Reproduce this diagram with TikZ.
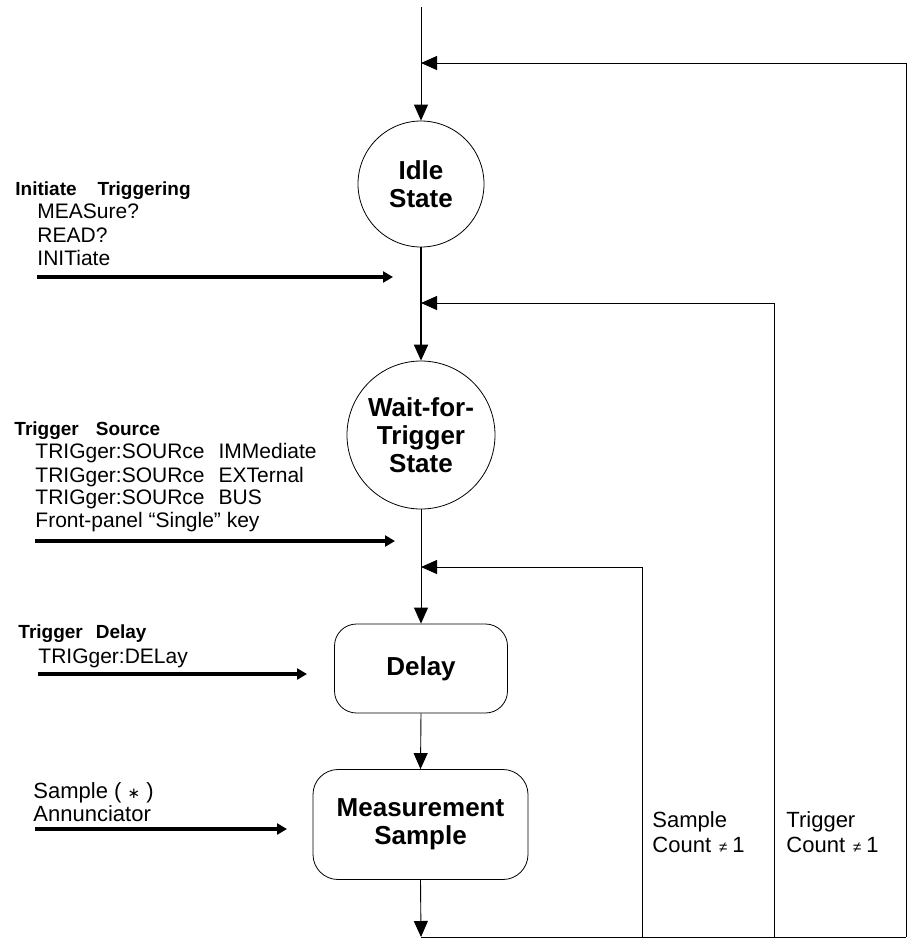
\documentclass[tikz,border=0pt]{standalone}
\usepackage{fontspec}
\setmainfont{Liberation Sans}
\newfontfamily\dejavu{DejaVu Sans}
\usetikzlibrary{arrows.meta}
\begin{document}
\begin{tikzpicture}[x=1pt,y=-1pt,
  line width=0.9pt,
  tipb/.style={-{Triangle[length=16pt,width=14pt]}},
  tips/.style={-{Triangle[length=10pt,width=11pt]}, line width=4pt},
  statec/.style={circle, draw, line width=0.8pt, inner sep=0pt, align=center,
    font=\fontsize{26}{28}\selectfont\bfseries},
  stepbox/.style={rounded corners=22pt, draw, line width=0.8pt, inner sep=0pt, align=center,
    font=\fontsize{26}{28}\selectfont\bfseries},
  lbl/.style={anchor=base west, inner sep=0pt, font=\fontsize{21}{23}\selectfont},
  lblc/.style={anchor=base west, inner sep=0pt, font=\fontsize{22}{24}\selectfont},
  lblb/.style={anchor=base west, inner sep=0pt, font=\fontsize{19}{23}\selectfont\bfseries},
]
\useasboundingbox (0,0) rectangle (907,940);

% states
\node[statec, minimum size=126pt] (idle) at (421,184) {Idle\\State};
\node[statec, minimum size=148pt] (wait) at (421,435) {Wait-for-\\Trigger\\State};
\node[stepbox, minimum width=173pt, minimum height=89pt] (delay) at (421,668.5) {Delay};
\node[stepbox, rounded corners=25pt, minimum width=215pt, minimum height=110pt] (meas) at (420.5,824.5) {Measurement\\Sample};

% main-line coordinates
\coordinate (top) at (421,7);
\coordinate (m1) at (421,63);
\coordinate (m2) at (421,303);
\coordinate (m3) at (421,567);
\coordinate (b0) at (421,937);
\coordinate (b1) at (642,937);
\coordinate (b2) at (774,937);
\coordinate (b3) at (906,937);

% main flow
\draw[tipb] (top) -- (idle.north);
\draw[tipb, line width=2pt] (idle.south) -- (wait.north);
\draw[tipb] (wait.south) -- (delay.north);
\draw[tipb] (delay.south) -- (meas.north);
\draw[tipb] (meas.south) -- (b0);
\draw (b0) -- (b3);

% feedback loops
\draw[tipb] (b3) -- (906,63) -- (m1);
\draw[tipb] (b2) -- (774,303) -- (m2);
\draw[tipb] (b1) -- (642,567) -- (m3);

% left labels
\node[lblb] (t1) at (15,195) {Initiate\hspace{21pt}Triggering};
\node[lbl] (t1a) at (37,218) {MEASure?};
\node[lbl] (t1b) at (37,242) {READ?};
\node[lbl] (t1c) at (37,265) {INITiate};
\coordinate (a1s) at (37,277);
\coordinate (a1e) at (393,277);
\draw[tips] (a1s) -- (a1e);

\node[lblb] (t2) at (14,435) {Trigger\hspace{17pt}Source};
\node[lbl] (t2a) at (35,458) {TRIGger:SOURce\hspace{14pt}IMMediate};
\node[lbl] (t2b) at (35,482) {TRIGger:SOURce\hspace{14pt}EXTernal};
\node[lbl] (t2c) at (35,504) {TRIGger:SOURce\hspace{14pt}BUS};
\node[lbl] (t2d) at (35,527) {Front-panel “Single” key};
\coordinate (a2s) at (35,541);
\coordinate (a2e) at (395,541);
\draw[tips] (a2s) -- (a2e);

\node[lblb] (t3) at (18,638) {Trigger\hspace{13pt}Delay};
\node[lbl] (t3a) at (38,663) {TRIGger:DELay};
\coordinate (a3s) at (38,674);
\coordinate (a3e) at (307,674);
\draw[tips] (a3s) -- (a3e);

\node[lblc] (t4) at (33,798) {Sample ( {\dejavu\fontsize{15}{15}\selectfont ∗} )};
\node[lblc] (t4a) at (33,821) {Annunciator};
\coordinate (a4s) at (35,829);
\coordinate (a4e) at (287,829);
\draw[tips] (a4s) -- (a4e);

% loop labels
\node[lblc] (c1) at (652,827) {Sample};
\node[lblc] (c1a) at (652,852) {Count\hspace{8pt}{\fontsize{15}{15}\selectfont ≠}\hspace{5pt}1};
\node[lblc] (c2) at (786,827) {Trigger};
\node[lblc] (c2a) at (786,852) {Count\hspace{8pt}{\fontsize{15}{15}\selectfont ≠}\hspace{5pt}1};
\end{tikzpicture}
\end{document}
